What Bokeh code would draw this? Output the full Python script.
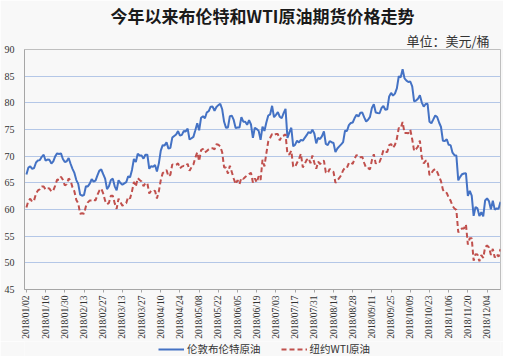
import math
from bokeh.plotting import figure
from bokeh.layouts import column
from bokeh.models import Range1d, FixedTicker, Legend, LegendItem, Title
from bokeh.embed import file_html
from bokeh.resources import INLINE

# Brent futures settlement (USD/bbl), every weekday 2018/01/02 - 2018/12/13
brent = [
    # Jan
    66.57, 67.84, 68.07, 67.62, 67.78, 68.82, 69.20, 69.26, 69.87, 70.26, 69.15,
    69.38, 69.31, 68.61, 69.03, 69.96, 70.53, 70.42, 70.52, 69.46, 68.89, 69.05,
    # Feb
    69.65, 68.58, 67.62, 66.86, 65.51, 64.81, 62.79, 62.59, 62.72, 64.36,
    64.33, 64.84, 65.67, 65.25, 65.42, 66.39, 67.31, 67.50, 66.63, 65.78,
    # Mar
    63.83, 64.37, 65.54, 65.79, 64.34, 63.61, 65.49, 64.95, 64.64, 64.89, 65.12,
    66.21, 66.05, 67.42, 69.47, 68.91, 70.45, 70.12, 70.11, 69.53, 70.27, 70.27,
    # Apr
    67.64, 68.12, 68.02, 68.33, 67.11, 68.65, 71.04, 72.06, 72.02, 72.58, 71.42,
    71.58, 73.48, 73.78, 74.06, 74.71, 73.86, 74.00, 74.74, 74.64, 75.17,
    # May
    73.13, 73.36, 73.62, 74.87, 76.17, 74.85, 77.21, 77.47, 77.12, 78.23, 78.43, 79.28,
    79.30, 78.51, 79.22, 79.57, 79.80, 78.79, 76.44, 75.30, 75.39, 77.50, 77.59,
    # Jun
    76.79, 75.29, 75.38, 75.36, 77.32, 76.46, 76.46, 75.88, 76.74, 75.94, 73.44,
    75.34, 75.08, 74.74, 73.05, 75.55, 74.73, 76.31, 77.62, 77.85, 79.44,
    # Jul
    77.30, 77.76, 78.24, 77.39, 77.11, 78.07, 78.86, 73.40, 74.45, 75.33, 71.84,
    72.16, 72.90, 72.58, 73.07, 72.91, 73.44, 73.93, 74.54, 74.29, 74.97, 74.25,
    # Aug
    72.39, 73.45, 73.21, 73.75, 74.65, 72.28, 72.07, 72.81, 72.61, 72.46, 70.76, 71.43,
    71.83, 72.21, 72.63, 74.78, 74.73, 75.82, 76.21, 76.31, 77.14, 77.77, 77.42,
    # Sep
    78.15, 78.17, 77.27, 76.50, 76.83, 77.37, 79.06, 79.74, 78.18, 78.09,
    78.05, 79.03, 79.40, 78.70, 78.80, 81.20, 81.87, 81.34, 81.72, 82.72,
    # Oct
    84.98, 84.80, 86.29, 84.58, 84.16, 83.91, 84.00, 83.09, 80.26, 80.43, 80.78, 81.41,
    80.05, 79.29, 79.78, 79.83, 76.44, 76.17, 76.89, 77.62, 77.34, 76.31, 75.47,
    # Nov
    72.89, 72.83, 73.17, 72.13, 72.07, 70.65, 70.18, 70.12, 65.47, 66.12, 66.62,
    66.76, 66.79, 62.53, 63.48, 62.60, 58.80, 60.48, 60.21, 58.76, 59.51, 58.71,
    # Dec
    61.69, 62.08, 61.56, 60.06, 61.67, 59.97, 60.20, 60.15, 61.45,
]

# WTI futures settlement (USD/bbl), same weekdays
wti = [
    # Jan
    60.37, 61.63, 62.01, 61.44, 61.73, 62.96, 63.57, 63.80, 64.30, 64.30, 63.73,
    63.97, 63.95, 63.37, 63.57, 64.47, 65.61, 65.51, 66.14, 65.56, 64.50, 64.73,
    # Feb
    65.80, 65.45, 64.15, 63.39, 61.79, 61.15, 59.20, 59.29, 59.19, 60.60,
    61.34, 61.68, 61.68, 61.90, 61.68, 62.77, 63.55, 63.91, 63.01, 61.64,
    # Mar
    60.99, 61.25, 62.57, 62.60, 61.15, 60.12, 62.04, 61.36, 60.71, 60.96, 61.19,
    62.34, 62.06, 63.40, 65.17, 64.30, 65.88, 65.55, 65.25, 64.38, 64.94, 64.94,
    # Apr
    63.01, 63.51, 63.37, 63.54, 62.06, 63.42, 65.51, 66.82, 67.07, 67.39, 66.22,
    66.52, 68.47, 68.29, 68.38, 68.64, 67.70, 68.05, 68.19, 68.10, 68.57,
    # May
    67.25, 67.93, 68.43, 69.72, 70.73, 69.06, 71.14, 71.36, 70.70, 70.96, 71.31, 71.49,
    71.49, 71.28, 72.24, 72.13, 71.84, 70.71, 67.88, 67.88, 66.73, 68.21, 67.04,
    # Jun
    65.81, 64.75, 65.52, 64.73, 65.95, 65.74, 66.10, 66.36, 66.64, 66.89, 65.06,
    65.85, 65.07, 66.22, 65.54, 69.30, 68.08, 70.53, 72.76, 73.45, 74.15,
    # Jul
    73.94, 74.14, 74.14, 72.94, 73.80, 73.85, 74.11, 70.38, 70.33, 71.01, 68.06,
    67.99, 68.76, 69.46, 70.46, 67.89, 68.52, 69.30, 69.61, 68.69, 70.13, 68.76,
    # Aug
    67.66, 68.96, 68.49, 69.01, 69.17, 66.94, 66.81, 67.63, 67.20, 67.04, 65.01, 65.46,
    65.91, 66.43, 67.35, 67.86, 67.83, 68.72, 68.87, 68.53, 69.51, 70.25, 69.80,
    # Sep
    69.80, 69.87, 68.72, 67.77, 67.75, 67.54, 69.25, 70.37, 68.59, 68.99,
    68.91, 69.85, 71.12, 70.80, 70.78, 72.08, 72.28, 71.57, 72.12, 73.25,
    # Oct
    75.30, 75.23, 76.41, 74.33, 74.34, 74.29, 74.96, 73.17, 70.97, 71.34, 71.78, 72.92,
    69.75, 68.65, 69.12, 69.17, 66.43, 66.82, 67.33, 67.59, 67.04, 66.18, 65.31,
    # Nov
    63.69, 63.14, 63.10, 62.21, 61.67, 60.67, 60.19, 59.93, 55.69, 56.25, 56.46,
    56.46, 57.20, 53.43, 54.63, 54.63, 50.42, 51.63, 51.56, 50.29, 51.45, 50.93,
    # Dec
    52.95, 53.25, 52.89, 51.49, 52.61, 51.00, 51.65, 51.15, 52.58,
]

tick_labels = [
    "2018/01/02", "2018/01/16", "2018/01/30", "2018/02/13", "2018/02/27",
    "2018/03/13", "2018/03/27", "2018/04/10", "2018/04/24", "2018/05/08",
    "2018/05/22", "2018/06/05", "2018/06/19", "2018/07/03", "2018/07/17",
    "2018/07/31", "2018/08/14", "2018/08/28", "2018/09/11", "2018/09/25",
    "2018/10/09", "2018/10/23", "2018/11/06", "2018/11/20", "2018/12/04",
]
label_step = 10  # one label every 10 weekdays
y_ticks = [45, 50, 55, 60, 65, 70, 75, 80, 85, 90]

title_text = "今年以来布伦特和WTI原油期货价格走势"
unit_text = "单位：美元/桶"
series_names = ["伦敦布伦特原油", "纽约WTI原油"]

x = list(range(len(brent)))
tick_pos = [i * label_step for i in range(len(tick_labels))]

BG = "#f8f8f8"
CJK = "Noto Sans CJK SC"
SERIF = "Liberation Serif"
BLUE = "#4472c4"
RED = "#c0504d"
DASH = "5 3"

p = figure(frame_width=476, frame_height=240, output_backend="svg", toolbar_location=None,
           x_range=Range1d(-1, len(brent) - 1), y_range=Range1d(45, 90),
           min_border_left=24, min_border_right=3, min_border_top=41,
           min_border_bottom=52, title=None)
p.background_fill_color = BG
p.border_fill_color = BG
p.outline_line_color = "#bfbfbf"

p.line(x, brent, line_color=BLUE, line_width=2)
p.line(x, wti, line_color=RED, line_width=2, line_dash=DASH)

p.xgrid.visible = False
p.ygrid.grid_line_color = "#b4c7e7"
p.ygrid.grid_line_width = 1

p.yaxis.ticker = FixedTicker(ticks=y_ticks)
p.yaxis.major_tick_out = 0
p.yaxis.major_tick_in = 0
p.yaxis.minor_tick_out = 0
p.yaxis.minor_tick_in = 0
p.yaxis.major_label_standoff = 10
p.yaxis.axis_line_color = "#a6a6a6"
p.yaxis.major_label_text_font = SERIF
p.yaxis.major_label_text_font_size = "10px"
p.yaxis.major_label_text_color = "#333333"
p.yaxis.axis_label = None

p.xaxis.ticker = FixedTicker(ticks=tick_pos)
p.xaxis.major_label_overrides = {pos: lab for pos, lab in zip(tick_pos, tick_labels)}
p.xaxis.major_label_orientation = math.pi / 2
p.xaxis.major_tick_out = 3
p.xaxis.major_tick_in = 0
p.xaxis.minor_tick_out = 0
p.xaxis.minor_tick_in = 0
p.xaxis.major_tick_line_color = "#a6a6a6"
p.xaxis.axis_line_color = "#a6a6a6"
p.xaxis.major_label_standoff = 3
p.xaxis.major_label_text_font = SERIF
p.xaxis.major_label_text_font_size = "9.5px"
p.xaxis.major_label_text_color = "#333333"
p.xaxis.axis_label = None
p.xaxis.axis_label_standoff = 0

p.add_layout(Title(text=unit_text, align="right", text_font=CJK,
                   text_font_size="13px", text_font_style="normal",
                   text_color="#333333", offset=11, standoff=0), "above")
p.add_layout(Title(text=title_text, align="center", text_font=CJK,
                   text_font_size="17px", text_font_style="bold",
                   text_color="#1a1a1a", offset=-8, standoff=1), "above")

# legend strip below the chart (same series, ranges chosen so only the key shows)
leg = figure(width=503, height=15, output_backend="svg", toolbar_location=None,
             x_range=Range1d(0, 1), y_range=Range1d(0, 1), min_border=0, title=None)
leg.background_fill_color = BG
leg.border_fill_color = BG
leg.outline_line_color = None
leg.axis.visible = False
leg.grid.visible = False
s1 = leg.line(x, brent, line_color=BLUE, line_width=2)
s2 = leg.line(x, wti, line_color=RED, line_width=2, line_dash=DASH)
legend = Legend(items=[LegendItem(label=series_names[0], renderers=[s1]),
                       LegendItem(label=series_names[1], renderers=[s2])],
                orientation="horizontal", location=(134, 0),
                label_text_font=CJK, label_text_font_size="10.5px",
                label_text_color="#333333", glyph_width=26, glyph_height=10,
                label_height=14, label_standoff=3, spacing=20,
                border_line_color=None, background_fill_alpha=0,
                padding=0, margin=0)
leg.add_layout(legend, "center")

layout = column(p, leg, spacing=0)
open("out.html", "w").write(file_html(layout, INLINE))
